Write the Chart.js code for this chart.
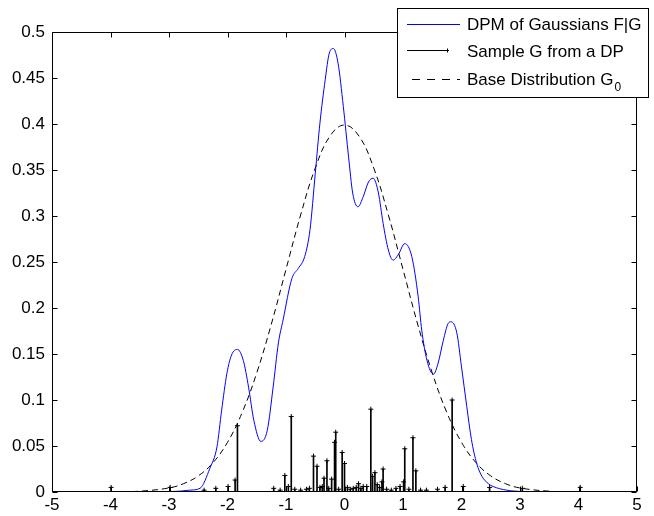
<!DOCTYPE html>
<html>
<head>
<meta charset="utf-8">
<script src="https://cdn.jsdelivr.net/npm/chart.js@4/dist/chart.umd.min.js"></script>
<style>
  html, body { margin: 0; padding: 0; background: #fff; }
</style>
</head>
<body>
<canvas id="my-chart" width="654" height="516"></canvas>
<script>
// DPM of Gaussians F|G (blue curve)
const mixX = [-5, -4, -3.5, -3, -2.8, -2.65, -2.47, -2.3, -2.18, -2.1, -2.01, -1.93, -1.83, -1.73, -1.64, -1.55,
  -1.43, -1.32, -1.22, -1.13, -1.05, -0.9, -0.79, -0.68, -0.59, -0.5, -0.42, -0.33, -0.26, -0.19, -0.11, -0.02,
  0.07, 0.14, 0.23, 0.32, 0.41, 0.49, 0.58, 0.66, 0.75, 0.83, 0.92, 1.03, 1.15, 1.26, 1.32, 1.41, 1.52, 1.6,
  1.69, 1.77, 1.82, 1.92, 2.0, 2.09, 2.17, 2.26, 2.35, 2.46, 2.54, 2.77, 3.05, 3.5, 4, 5];
const mixY = [0, 0, 0, 0.0005, 0.001, 0.002, 0.004, 0.026, 0.049, 0.089, 0.129, 0.149, 0.155, 0.143, 0.114, 0.078,
  0.055, 0.067, 0.114, 0.162, 0.187, 0.232, 0.243, 0.256, 0.285, 0.346, 0.401, 0.448, 0.477, 0.482, 0.466, 0.419,
  0.364, 0.325, 0.310, 0.321, 0.337, 0.341, 0.325, 0.292, 0.263, 0.252, 0.258, 0.270, 0.256, 0.212, 0.176, 0.143, 0.128, 0.140,
  0.165, 0.183, 0.185, 0.173, 0.136, 0.093, 0.057, 0.031, 0.017, 0.009, 0.006, 0.002, 0.0005, 0, 0, 0];

// Base distribution G0 (dashed)
const baseX = [-5, -4.5, -4, -3.5, -3, -2.75, -2.5, -2.25, -2, -1.75, -1.5, -1.25, -1, -0.75, -0.5, -0.25, 0,
  0.25, 0.5, 0.75, 1, 1.25, 1.5, 1.75, 2, 2.25, 2.5, 2.75, 3, 3.5, 4, 4.5, 5];
const baseY = [0, 0, 0.0001, 0.0009, 0.0044, 0.0091, 0.0175, 0.0317, 0.054, 0.0863, 0.1295, 0.1826, 0.242, 0.3011, 0.3521, 0.3867, 0.3989,
  0.3867, 0.3521, 0.3011, 0.242, 0.1826, 0.1295, 0.0863, 0.054, 0.0317, 0.0175, 0.0091, 0.0044, 0.0009, 0.0001, 0, 0];

// Sample G from a DP (stems)
const stemX = [-3.99, -2.98, -2.4, -2.2, -1.99, -1.87, -1.83, -1.21, -1.1, -1.02, -0.96, -0.91, -0.85, -0.75, -0.65, -0.6,
  -0.53, -0.47, -0.42, -0.38, -0.35, -0.3, -0.27, -0.22, -0.17, -0.15, -0.1, -0.04, 0.0, 0.05, 0.1, 0.15, 0.2, 0.24,
  0.28, 0.32, 0.38, 0.45, 0.48, 0.52, 0.56, 0.6, 0.64, 0.66, 0.72, 0.8, 0.88, 0.95, 1.01, 1.03, 1.1, 1.17, 1.22,
  1.3, 1.4, 1.59, 1.72, 1.84, 2.03, 2.48, 3.04, 4.03];
const stemY = [0.005, 0.005, 0.002, 0.004, 0.006, 0.013, 0.072, 0.004, 0.002, 0.018, 0.006, 0.082, 0.003, 0.002, 0.003, 0.004,
  0.039, 0.028, 0.005, 0.006, 0.015, 0.034, 0.004, 0.014, 0.054, 0.065, 0.003, 0.043, 0.031, 0.005, 0.003, 0.004, 0.005, 0.009,
  0.004, 0.006, 0.006, 0.090, 0.017, 0.021, 0.008, 0.005, 0.011, 0.025, 0.003, 0.002, 0.004, 0.006, 0.011, 0.047, 0.003, 0.059, 0.023,
  0.002, 0.002, 0.003, 0.005, 0.100, 0.006, 0.005, 0.004, 0.005];

const xTicks = [-5, -4, -3, -2, -1, 0, 1, 2, 3, 4, 5];
const yTicks = [0, 0.05, 0.1, 0.15, 0.2, 0.25, 0.3, 0.35, 0.4, 0.45, 0.5];
const legendLabels = ['DPM of Gaussians F|G', 'Sample G from a DP', 'Base Distribution G'];

const FONT = '"Liberation Sans", Arial, sans-serif';

const toPoints = (xs, ys) => xs.map((x, i) => ({ x: x, y: ys[i] }));

// box with inward ticks on all four sides
const framePlugin = {
  id: 'frame',
  afterDatasetsDraw(chart) {
    const { ctx, chartArea: a, scales } = chart;
    ctx.save();
    ctx.strokeStyle = '#000';
    ctx.lineWidth = 1;
    ctx.beginPath();
    const L = Math.round(a.left) + 0.5, R = Math.round(a.right) - 0.5;
    const T = Math.round(a.top) + 0.5, B = Math.round(a.bottom) - 0.5;
    ctx.rect(L, T, R - L, B - T);
    xTicks.forEach((v) => {
      const px = Math.round(scales.x.getPixelForValue(v)) + 0.5;
      ctx.moveTo(px, B); ctx.lineTo(px, B - 5);
      ctx.moveTo(px, T); ctx.lineTo(px, T + 5);
    });
    yTicks.forEach((v) => {
      const py = Math.round(scales.y.getPixelForValue(v)) + 0.5;
      ctx.moveTo(L, py); ctx.lineTo(L + 5, py);
      ctx.moveTo(R, py); ctx.lineTo(R - 5, py);
    });
    ctx.stroke();
    ctx.restore();
  },
};

// MATLAB-style legend box
const legendPlugin = {
  id: 'matlabLegend',
  afterDraw(chart) {
    const ctx = chart.ctx;
    const bx = 397.5, by = 8.5, bw = 251, bh = 89;
    ctx.save();
    ctx.fillStyle = '#fff';
    ctx.fillRect(bx, by, bw, bh);
    ctx.strokeStyle = '#000';
    ctx.lineWidth = 1;
    ctx.strokeRect(bx, by, bw, bh);

    const rows = [24.5, 50.5, 79.5];
    // blue line
    ctx.strokeStyle = '#0000ff';
    ctx.beginPath(); ctx.moveTo(407, rows[0]); ctx.lineTo(460, rows[0]); ctx.stroke();
    // stem sample
    ctx.strokeStyle = '#000';
    ctx.beginPath(); ctx.moveTo(407, rows[1]); ctx.lineTo(449, rows[1]);
    ctx.moveTo(447.5, rows[1] - 2); ctx.lineTo(447.5, rows[1] + 2); ctx.stroke();
    // dashed
    ctx.setLineDash([8, 7]);
    ctx.beginPath(); ctx.moveTo(412, rows[2]); ctx.lineTo(460, rows[2]); ctx.stroke();
    ctx.setLineDash([]);

    ctx.fillStyle = '#000';
    ctx.textBaseline = 'alphabetic';
    ctx.font = '17px ' + FONT;
    ctx.fillText(legendLabels[0], 467, 30);
    ctx.fillText(legendLabels[1], 467, 57);
    ctx.fillText(legendLabels[2], 467, 85);
    const w = ctx.measureText(legendLabels[2]).width;
    ctx.font = '12px ' + FONT;
    ctx.fillText('0', 467 + w + 1, 91);
    ctx.restore();
  },
};

const ctx = document.getElementById('my-chart').getContext('2d');
new Chart(ctx, {
  type: 'line',
  data: {
    datasets: [
      {
        label: legendLabels[0],
        data: toPoints(mixX, mixY),
        borderColor: '#0000ff',
        borderWidth: 1,
        pointRadius: 0,
        cubicInterpolationMode: 'monotone',
        fill: false,
      },
      {
        type: 'bar',
        label: legendLabels[1],
        data: toPoints(stemX, stemY),
        backgroundColor: '#000',
        barThickness: 1,
        grouped: false,
      },
      {
        type: 'scatter',
        label: legendLabels[1] + ' markers',
        data: toPoints(stemX, stemY),
        showLine: false,
        pointStyle: 'cross',
        pointRadius: 2.5,
        borderColor: '#000',
        borderWidth: 1,
      },
      {
        label: 'Base Distribution G0',
        data: toPoints(baseX, baseY),
        borderColor: '#000',
        borderWidth: 1,
        borderDash: [6, 4],
        pointRadius: 0,
        tension: 0.4,
        fill: false,
      },
    ],
  },
  options: {
    responsive: false,
    animation: false,
    layout: { padding: { left: 0, right: 17, top: 32, bottom: 0 } },
    plugins: {
      legend: { display: false },
      tooltip: { enabled: false },
    },
    scales: {
      x: {
        type: 'linear',
        min: -5,
        max: 5,
        offset: false,
        grid: { display: false, drawTicks: false },
        border: { display: false },
        afterBuildTicks: (scale) => { scale.ticks = xTicks.map((v) => ({ value: v })); },
        afterFit: (scale) => { scale.height = 24; },
        ticks: {
          padding: 3,
          color: '#000',
          font: { family: FONT, size: 17 },
          maxRotation: 0,
          callback: (v) => String(v),
        },
      },
      y: {
        type: 'linear',
        min: 0,
        max: 0.5,
        grid: { display: false, drawTicks: false },
        border: { display: false },
        afterBuildTicks: (scale) => { scale.ticks = yTicks.map((v) => ({ value: v })); },
        afterFit: (scale) => { scale.width = 52; },
        ticks: {
          padding: 7,
          color: '#000',
          font: { family: FONT, size: 17 },
          callback: (v) => String(Number(v.toFixed(2))),
        },
      },
    },
  },
  plugins: [framePlugin, legendPlugin],
});
</script>
</body>
</html>
